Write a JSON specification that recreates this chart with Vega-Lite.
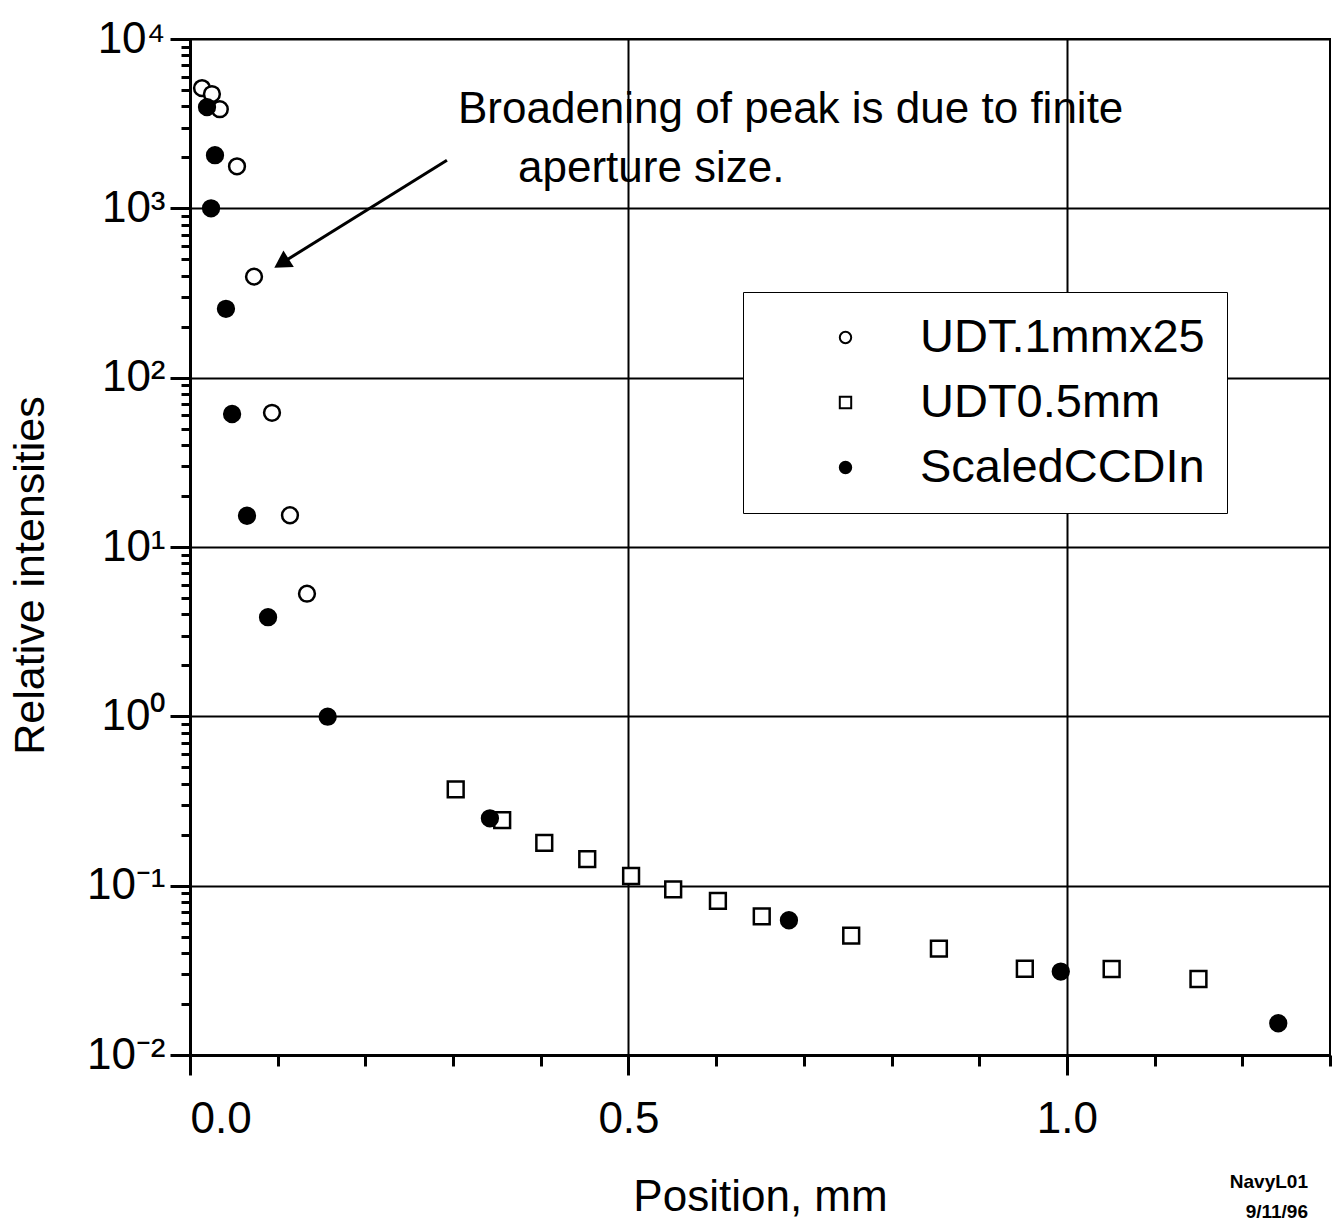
{
  "$schema": "https://vega.github.io/schema/vega-lite/v6.json",
  "width": 1140,
  "height": 1016,
  "autosize": {"type": "none"},
  "padding": {"left": 190, "top": 39, "right": 5, "bottom": 169},
  "background": "white",
  "config": {
    "font": "Liberation Sans",
    "view": {"stroke": "black", "strokeWidth": 2},
    "axis": {
      "domainColor": "black", "domainWidth": 3, "tickColor": "black", "tickWidth": 3,
      "gridColor": "black", "gridWidth": 2, "gridOpacity": 1,
      "labelColor": "black", "titleColor": "black", "labelFont": "Liberation Sans", "titleFont": "Liberation Sans",
      "titleFontWeight": "normal"
    },
    "legend": {
      "title": null, "orient": "none", "legendX": 553, "legendY": 253,
      "padding": 22, "rowPadding": 17, "symbolOffset": 57, "labelOffset": 51, "labelLimit": 500,
      "labelFontSize": 47, "labelFont": "Liberation Sans", "labelColor": "black",
      "symbolStrokeColor": "black", "symbolStrokeWidth": 2, "symbolSize": 130,
      "strokeColor": "black", "fillColor": "white"
    }
  },
  "title": {
    "text": ["NavyL01", "9/11/96"],
    "orient": "bottom",
    "anchor": "end",
    "frame": "group",
    "fontSize": 19,
    "fontWeight": "bold",
    "font": "Liberation Sans",
    "lineHeight": 30,
    "color": "black",
    "offset": -46,
    "dx": -22
  },
  "datasets": {
    "pts": [
      {"series": "UDT.1mmx25", "x": 0.0137, "y": 5130},
      {"series": "UDT.1mmx25", "x": 0.025, "y": 4730},
      {"series": "UDT.1mmx25", "x": 0.034, "y": 3850},
      {"series": "UDT.1mmx25", "x": 0.0536, "y": 1770},
      {"series": "UDT.1mmx25", "x": 0.073, "y": 395},
      {"series": "UDT.1mmx25", "x": 0.0935, "y": 62},
      {"series": "UDT.1mmx25", "x": 0.114, "y": 15.4},
      {"series": "UDT.1mmx25", "x": 0.1334, "y": 5.3},
      {"series": "UDT0.5mm", "x": 0.303, "y": 0.37},
      {"series": "UDT0.5mm", "x": 0.356, "y": 0.244},
      {"series": "UDT0.5mm", "x": 0.404, "y": 0.179},
      {"series": "UDT0.5mm", "x": 0.453, "y": 0.1435},
      {"series": "UDT0.5mm", "x": 0.503, "y": 0.114},
      {"series": "UDT0.5mm", "x": 0.551, "y": 0.0951},
      {"series": "UDT0.5mm", "x": 0.602, "y": 0.0813},
      {"series": "UDT0.5mm", "x": 0.652, "y": 0.0658},
      {"series": "UDT0.5mm", "x": 0.754, "y": 0.0507},
      {"series": "UDT0.5mm", "x": 0.854, "y": 0.0425},
      {"series": "UDT0.5mm", "x": 0.952, "y": 0.0323},
      {"series": "UDT0.5mm", "x": 1.051, "y": 0.0322},
      {"series": "UDT0.5mm", "x": 1.15, "y": 0.0281},
      {"series": "ScaledCCDIn", "x": 0.0194, "y": 3960},
      {"series": "ScaledCCDIn", "x": 0.0285, "y": 2060},
      {"series": "ScaledCCDIn", "x": 0.024, "y": 1000},
      {"series": "ScaledCCDIn", "x": 0.041, "y": 255},
      {"series": "ScaledCCDIn", "x": 0.048, "y": 61},
      {"series": "ScaledCCDIn", "x": 0.065, "y": 15.3},
      {"series": "ScaledCCDIn", "x": 0.089, "y": 3.85},
      {"series": "ScaledCCDIn", "x": 0.157, "y": 0.995},
      {"series": "ScaledCCDIn", "x": 0.342, "y": 0.25},
      {"series": "ScaledCCDIn", "x": 0.683, "y": 0.0625},
      {"series": "ScaledCCDIn", "x": 0.993, "y": 0.0311},
      {"series": "ScaledCCDIn", "x": 1.241, "y": 0.0154}
    ],
    "notes": [
      {"x": 0.3056, "y": 3184, "t": "Broadening of peak is due to finite"},
      {"x": 0.374, "y": 1425, "t": "aperture size."}
    ],
    "arrow": [
      {"x": 0.293, "y": 1923, "x2": 0.1043, "y2": 474}
    ]
  },
  "layer": [
    {
      "data": {"name": "pts"},
      "mark": {"type": "point", "filled": true, "strokeWidth": 2.5, "opacity": 1, "size": 250},
      "encoding": {
        "x": {
          "field": "x", "type": "quantitative",
          "scale": {"domain": [0, 1.3], "nice": false, "zero": false},
          "axis": {
            "orient": "bottom", "values": [0, 0.5, 1.0], "format": ".1f",
            "tickSize": 20, "labelFontSize": 44, "labelPadding": 22,
            "title": "Position, mm", "titleFontSize": 44, "titlePadding": 34,
            "grid": true
          }
        },
        "y": {
          "field": "y", "type": "quantitative",
          "scale": {"type": "log", "domain": [0.01, 10000], "nice": false},
          "axis": {
            "orient": "left",
            "values": [0.01, 0.1, 1, 10, 100, 1000, 10000],
            "labelExpr": "datum.value == 10000 ? '10⁴' : datum.value == 1000 ? '10³' : datum.value == 100 ? '10²' : datum.value == 10 ? '10¹' : datum.value == 1 ? '10⁰' : datum.value == 0.1 ? '10⁻¹' : '10⁻²'",
            "tickSize": 20, "labelFontSize": 44, "labelPadding": 5,
            "title": "Relative intensities", "titleFontSize": 43, "titlePadding": 34, "titleY": 536,
            "grid": true
          }
        },
        "shape": {
          "field": "series", "type": "nominal",
          "scale": {"domain": ["UDT.1mmx25", "UDT0.5mm", "ScaledCCDIn"], "range": ["circle", "square", "circle"]}
        },
        "fill": {
          "field": "series", "type": "nominal",
          "scale": {"domain": ["UDT.1mmx25", "UDT0.5mm", "ScaledCCDIn"], "range": ["white", "white", "black"]}
        },
        "stroke": {
          "field": "series", "type": "nominal",
          "scale": {"domain": ["UDT.1mmx25", "UDT0.5mm", "ScaledCCDIn"], "range": ["black", "black", "black"]}
        }
      }
    },
    {
      "data": {"name": "notes"},
      "mark": {"type": "text", "align": "left", "baseline": "alphabetic", "fontSize": 44, "font": "Liberation Sans", "color": "black"},
      "encoding": {
        "x": {
          "field": "x", "type": "quantitative",
          "axis": {
            "orient": "bottom", "values": [0.1, 0.2, 0.3, 0.4, 0.6, 0.7, 0.8, 0.9, 1.1, 1.2, 1.3],
            "tickSize": 11, "labels": false, "domain": false, "grid": false, "title": null
          }
        },
        "y": {
          "field": "y", "type": "quantitative",
          "axis": {
            "orient": "left",
            "values": [0.02, 0.03, 0.04, 0.05, 0.06, 0.07, 0.08, 0.09, 0.2, 0.3, 0.4, 0.5, 0.6, 0.7, 0.8, 0.9, 2, 3, 4, 5, 6, 7, 8, 9, 20, 30, 40, 50, 60, 70, 80, 90, 200, 300, 400, 500, 600, 700, 800, 900, 2000, 3000, 4000, 5000, 6000, 7000, 8000, 9000],
            "tickSize": 9, "labels": false, "domain": false, "grid": false, "title": null
          }
        },
        "text": {"field": "t", "type": "nominal"}
      }
    },
    {
      "data": {"name": "arrow"},
      "mark": {"type": "rule", "color": "black", "strokeWidth": 3},
      "encoding": {
        "x": {"field": "x", "type": "quantitative", "axis": null},
        "y": {"field": "y", "type": "quantitative", "axis": null},
        "x2": {"field": "x2"},
        "y2": {"field": "y2"}
      }
    },
    {
      "data": {"name": "arrow"},
      "mark": {"type": "point", "shape": "triangle-up", "filled": true, "color": "black", "opacity": 1, "size": 380, "angle": 238},
      "encoding": {
        "x": {"field": "x2", "type": "quantitative", "axis": null},
        "y": {"field": "y2", "type": "quantitative", "axis": null}
      }
    }
  ],
  "resolve": {"axis": {"x": "independent", "y": "independent"}}
}
